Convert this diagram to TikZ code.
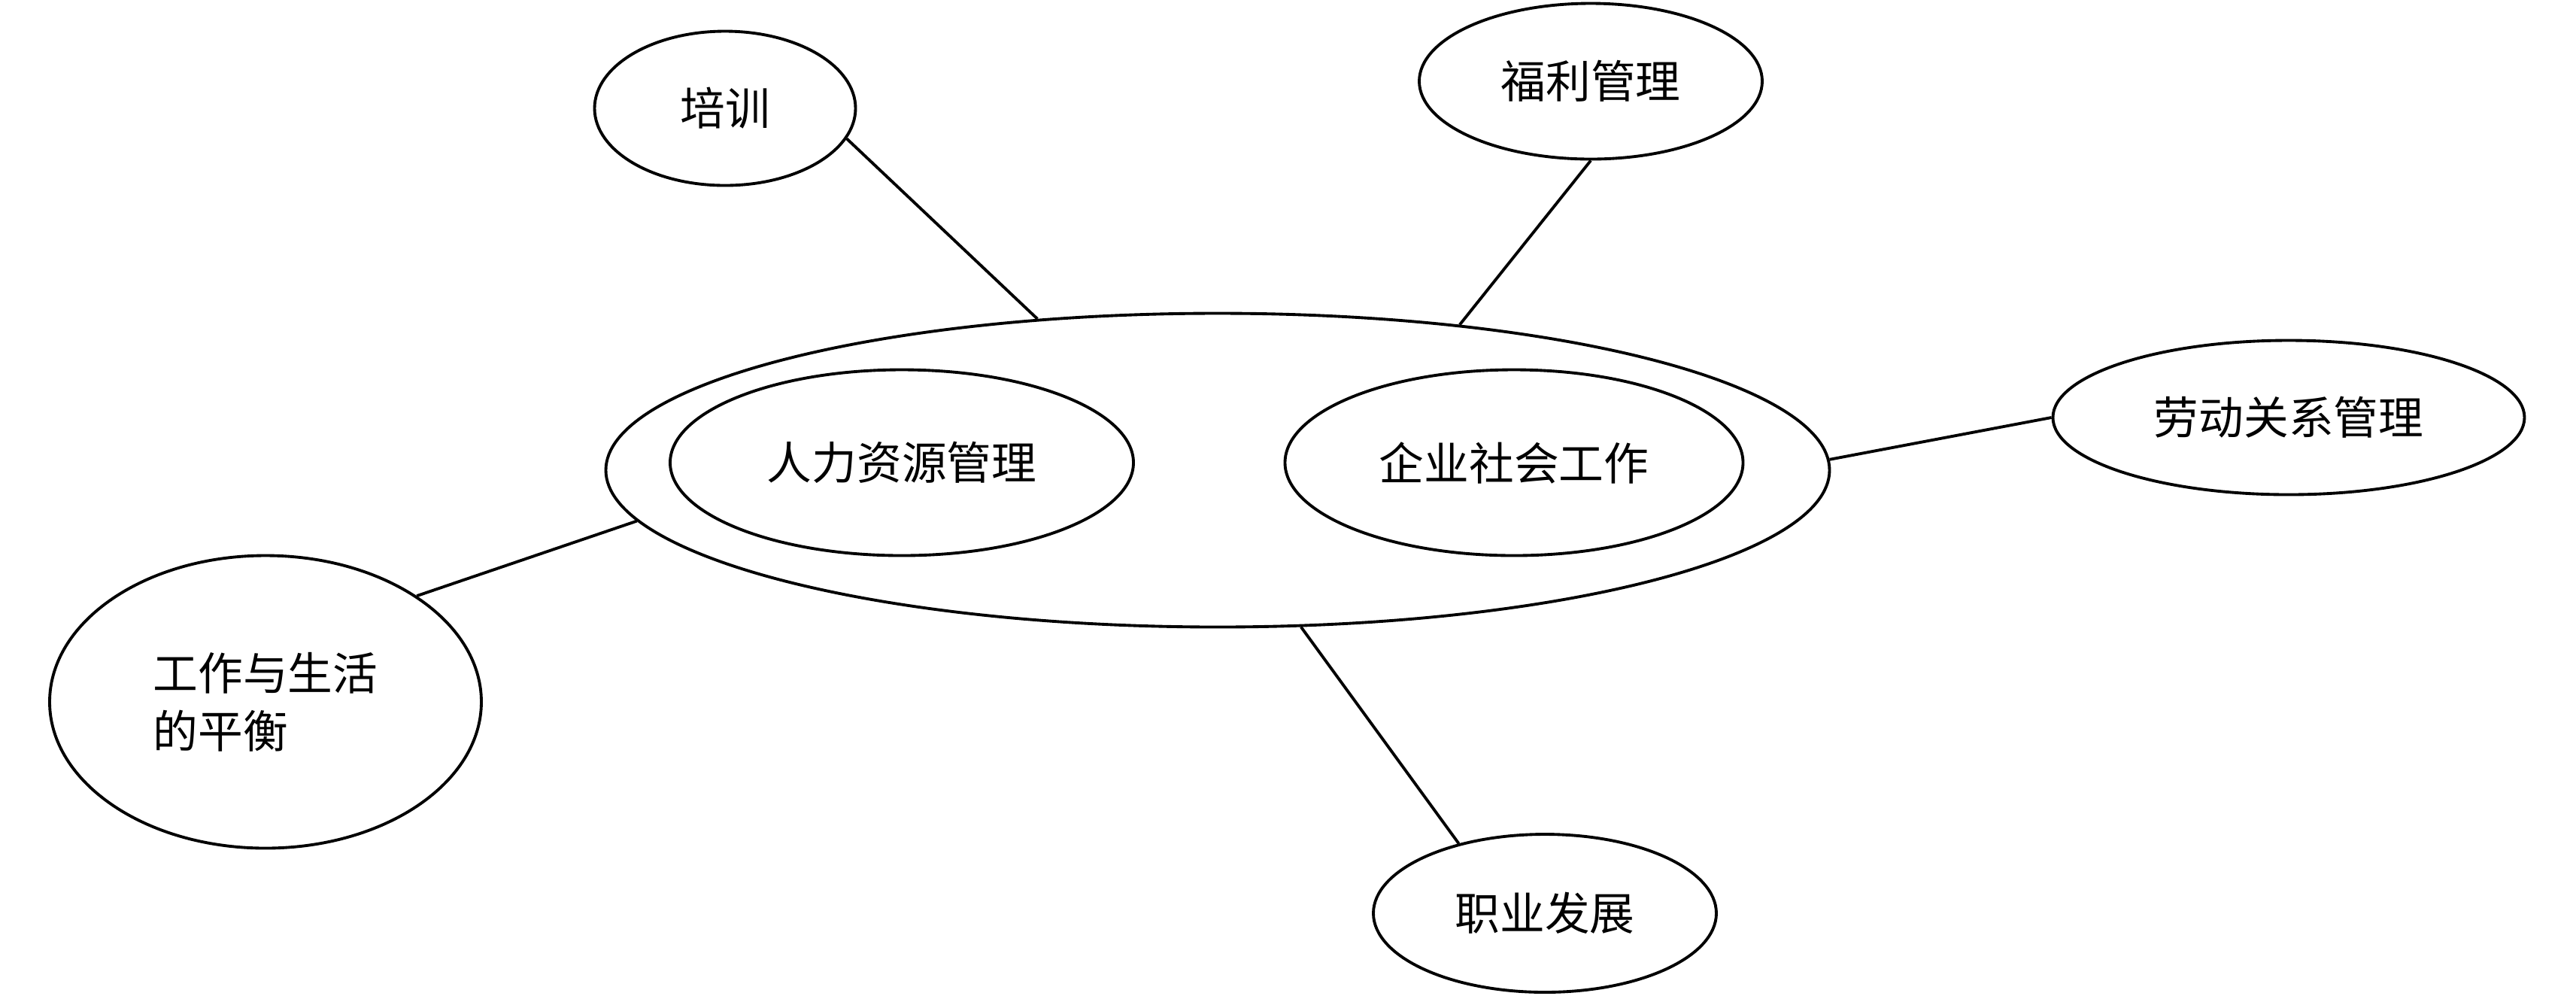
\documentclass[tikz,border=0pt]{standalone}
\usepackage{fontspec}
\newfontfamily\cjk{Noto Sans CJK SC}
\usepackage{tikz}
\usetikzlibrary{shapes.geometric}

\begin{document}
\begin{tikzpicture}[
  bub/.style={ellipse,draw=black,line width=1.1pt,inner sep=0pt,font=\cjk\fontsize{17}{22}\selectfont},
  lnk/.style={line width=1.1pt,color=black}]
\useasboundingbox (0,0) rectangle (34.25,-13.235);
\node[bub,minimum width=16.27cm,minimum height=4.17cm] (core) at (16.19,-6.25) {};
\node[bub,minimum width=6.16cm,minimum height=2.47cm] (hrm) at (11.99,-6.15) {人力资源管理};
\node[bub,minimum width=6.09cm,minimum height=2.47cm] (csw) at (20.13,-6.15) {企业社会工作};
\node[bub,minimum width=3.47cm,minimum height=2.05cm] (train) at (9.64,-1.44) {培训};
\node[bub,minimum width=4.56cm,minimum height=2.07cm] (welfare) at (21.15,-1.08) {福利管理};
\node[bub,minimum width=6.27cm,minimum height=2.05cm] (labor) at (30.43,-5.55) {劳动关系管理};
\node[bub,minimum width=5.74cm,minimum height=3.89cm,align=left] (balance) at (3.53,-9.33) {工作与生活\\的平衡};
\node[bub,minimum width=4.56cm,minimum height=2.10cm] (career) at (20.54,-12.14) {职业发展};
\draw[lnk] (train.-14) -- (core.140);
\draw[lnk] (welfare.south) -- (core.31);
\draw[lnk] (labor.west) -- (core.1);
\draw[lnk] (balance.35) -- (core.185);
\draw[lnk] (career.141) -- (core.-62);
\end{tikzpicture}
\end{document}
